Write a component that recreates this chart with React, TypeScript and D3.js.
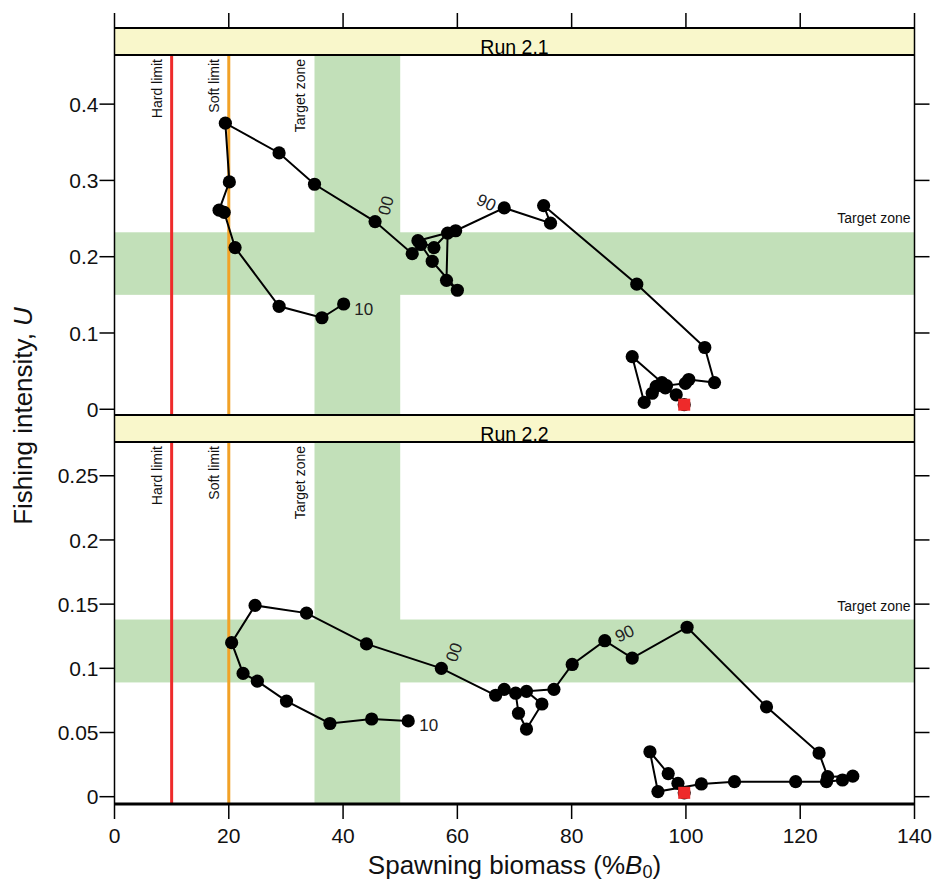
import React from 'react';
import * as d3 from 'd3';

// ---------- data ----------
const startYear = 1974;
const xTicks = [0, 20, 40, 60, 80, 100, 120, 140];
const yTicks1 = [0, 0.1, 0.2, 0.3, 0.4];
const yTickLabels1 = ['0', '0.1', '0.2', '0.3', '0.4'];
const yTicks2 = [0, 0.05, 0.1, 0.15, 0.2, 0.25];
const yTickLabels2 = ['0', '0.05', '0.1', '0.15', '0.2', '0.25'];

// Run 2.1 trajectory (spawning biomass %B0, fishing intensity U), 1974..2010
const run1B = [99.7, 98.3, 96.4, 95.8, 90.6, 92.7, 94.1, 94.8, 96.6, 99.9, 100.5, 105.0, 103.3, 91.4, 75.1, 76.3,
  68.2, 59.7, 53.1, 55.9, 58.3, 58.1, 60.0, 55.6, 53.6, 52.1,
  45.6, 35.0, 28.8, 19.4, 20.1, 18.3, 19.2, 21.1, 28.8, 36.3, 40.1];
const run1U = [0.006, 0.019, 0.028, 0.035, 0.069, 0.009, 0.021, 0.030, 0.031, 0.034, 0.039, 0.035, 0.081, 0.164, 0.267, 0.244,
  0.264, 0.234, 0.221, 0.212, 0.231, 0.169, 0.156, 0.194, 0.216, 0.204,
  0.246, 0.295, 0.336, 0.375, 0.298, 0.261, 0.258, 0.212, 0.135, 0.120, 0.138];

// Run 2.2 trajectory, 1974..2010
const run2B = [99.7, 98.6, 96.9, 93.7, 95.1, 102.7, 108.5, 119.2, 124.6, 127.4, 129.2, 124.8, 123.3, 114.1, 100.2, 90.6,
  85.8, 80.1, 76.9, 72.1, 74.8, 72.1, 70.7, 70.2, 68.2, 66.7,
  57.2, 44.1, 33.6, 24.6, 20.5, 22.5, 25.0, 30.1, 37.7, 45.0, 51.4];
const run2U = [0.003, 0.0104, 0.018, 0.035, 0.004, 0.0099, 0.0117, 0.0117, 0.0117, 0.013, 0.016, 0.0156, 0.034, 0.070, 0.132, 0.108,
  0.1215, 0.103, 0.0836, 0.0821, 0.0722, 0.0527, 0.065, 0.0806, 0.0836, 0.079,
  0.100, 0.119, 0.143, 0.149, 0.120, 0.096, 0.090, 0.0745, 0.057, 0.0605, 0.059];

const labelYears = [1990, 2000, 2010];
const labelTexts = ['90', '00', '10'];

const hardLimit = 10;
const softLimit = 20;
const targetB = [35, 50];
const targetU1 = [0.15, 0.232];
const targetU2 = [0.089, 0.138];

// ---------- layout / style ----------
const X0 = 114.5, X1 = 914.5;
const FONT = '"Liberation Sans", Arial, Helvetica, sans-serif';
const GREEN = '#c2e0b9';
const STRIP = '#f9f7cb';
const RED = '#ee2a2a';
const ORANGE = '#f2a227';

const x = d3.scaleLinear().domain([0, 140]).range([X0, X1]);

type Panel = {
  title: string; stripTop: number; top: number; bottom: number; domain: [number, number];
  ticks: number[]; tickLabels: string[]; B: number[]; U: number[]; band: number[];
  labelOffsets: [number, number, number][];
};

const panels: Panel[] = [
  {
    title: 'Run 2.1', stripTop: 28, top: 55, bottom: 415, domain: [-0.0075, 0.4644],
    ticks: yTicks1, tickLabels: yTickLabels1, B: run1B, U: run1U, band: targetU1,
    labelOffsets: [[-18, -5, 25], [11, -16, -75], [20, 5, 0]],
  },
  {
    title: 'Run 2.2', stripTop: 415, top: 442, bottom: 804, domain: [-0.0057, 0.2763],
    ticks: yTicks2, tickLabels: yTickLabels2, B: run2B, U: run2U, band: targetU2,
    labelOffsets: [[20, -7, -25], [13, -16, -70], [20.5, 5, 0]],
  },
];

function PanelView({ p, i }: { p: Panel; i: number }) {
  const y = d3.scaleLinear().domain(p.domain).range([p.bottom, p.top]);
  const pts = p.B.map((b, k) => [x(b), y(p.U[k])] as [number, number]);
  const line = d3.line()(pts) || '';
  const clipId = `clip${i}`;
  const vlabelY = p.top + 4;
  return (
    <g>
      <defs>
        <clipPath id={clipId}>
          <rect x={X0} y={p.top} width={X1 - X0} height={p.bottom - p.top} />
        </clipPath>
      </defs>
      <g clipPath={`url(#${clipId})`}>
        <rect x={X0} y={y(p.band[1])} width={X1 - X0} height={y(p.band[0]) - y(p.band[1])} fill={GREEN} />
        <rect x={x(targetB[0])} y={p.top} width={x(targetB[1]) - x(targetB[0])} height={p.bottom - p.top} fill={GREEN} />
        <line x1={x(hardLimit)} x2={x(hardLimit)} y1={p.top} y2={p.bottom} stroke={RED} strokeWidth={3} />
        <line x1={x(softLimit)} x2={x(softLimit)} y1={p.top} y2={p.bottom} stroke={ORANGE} strokeWidth={3} />
        {[['Hard limit', hardLimit], ['Soft limit', softLimit], ['Target zone', targetB[0]]].map(([t, v]) => (
          <text key={t as string} transform={`translate(${x(v as number) - 10},${vlabelY}) rotate(-90)`}
            textAnchor="end" fontSize={14} fontFamily={FONT} fill="#111">{t}</text>
        ))}
        <text x={X1 - 4} y={y(p.band[1]) - 9} textAnchor="end" fontSize={14} fontFamily={FONT} fill="#111">Target zone</text>
        <path d={line} fill="none" stroke="#000" strokeWidth={2} />
        {pts.map(([cx, cy], k) => (
          <circle key={k} cx={cx} cy={cy} r={6.6} fill="#000" />
        ))}
        <rect x={pts[0][0] - 6} y={pts[0][1] - 6} width={12} height={12} fill={RED} />
        {labelYears.map((yr, k) => {
          const [px, py] = pts[yr - startYear];
          const [dx, dy, rot] = p.labelOffsets[k];
          return (
            <text key={yr} transform={`translate(${px + dx},${py + dy}) rotate(${rot})`}
              textAnchor="middle" dominantBaseline="central" fontSize={17} fontFamily={FONT} fill="#222">
              {labelTexts[k]}
            </text>
          );
        })}
      </g>
      {/* strip */}
      <rect x={X0} y={p.stripTop} width={X1 - X0} height={p.top - p.stripTop} fill={STRIP} />
      <line x1={X0} x2={X1} y1={p.stripTop} y2={p.stripTop} stroke="#000" strokeWidth={2} />
      <line x1={X0} x2={X1} y1={p.top} y2={p.top} stroke="#000" strokeWidth={2} />
      <text x={(X0 + X1) / 2} y={p.top - 1.5} textAnchor="middle" fontSize={19.5} fontFamily={FONT} fill="#000">{p.title}</text>
      {/* y ticks */}
      {p.ticks.map((t, k) => (
        <g key={t}>
          <line x1={X0 - 15} x2={X0} y1={y(t)} y2={y(t)} stroke="#000" strokeWidth={1.5} />
          <line x1={X1} x2={X1 + 15} y1={y(t)} y2={y(t)} stroke="#000" strokeWidth={1.5} />
          <text x={X0 - 16} y={y(t)} dy="0.36em" textAnchor="end" fontSize={21} fontFamily={FONT} fill="#111">{p.tickLabels[k]}</text>
        </g>
      ))}
    </g>
  );
}

export default function App() {
  const top = panels[0].stripTop;
  const bottom = panels[1].bottom;
  return (
    <svg width={932} height={884} style={{ position: 'absolute', left: 0, top: 0, background: '#fff' }}>
      <rect x={0} y={0} width={932} height={884} fill="#fff" />
      {panels.map((p, i) => <PanelView key={i} p={p} i={i} />)}
      <line x1={X0} x2={X0} y1={top} y2={bottom} stroke="#000" strokeWidth={1.5} />
      <line x1={X1} x2={X1} y1={top} y2={bottom} stroke="#000" strokeWidth={1.5} />
      <line x1={X0} x2={X1} y1={bottom} y2={bottom} stroke="#000" strokeWidth={3} />
      {xTicks.map(t => (
        <g key={t}>
          <line x1={x(t)} x2={x(t)} y1={top - 15} y2={top} stroke="#000" strokeWidth={1.5} />
          <line x1={x(t)} x2={x(t)} y1={bottom} y2={bottom + 15} stroke="#000" strokeWidth={1.5} />
          <text x={x(t)} y={843} textAnchor="middle" fontSize={21} fontFamily={FONT} fill="#111">{t}</text>
        </g>
      ))}
      <text x={(X0 + X1) / 2} y={874} textAnchor="middle" fontSize={26} fontFamily={FONT} fill="#111">
        Spawning biomass (%<tspan fontStyle="italic">B</tspan><tspan fontSize={18} dy={4}>0</tspan><tspan dy={-4}>)</tspan>
      </text>
      <text transform={`translate(32,416) rotate(-90)`} textAnchor="middle" fontSize={26} fontFamily={FONT} fill="#111">
        Fishing intensity, <tspan fontStyle="italic">U</tspan>
      </text>
    </svg>
  );
}
